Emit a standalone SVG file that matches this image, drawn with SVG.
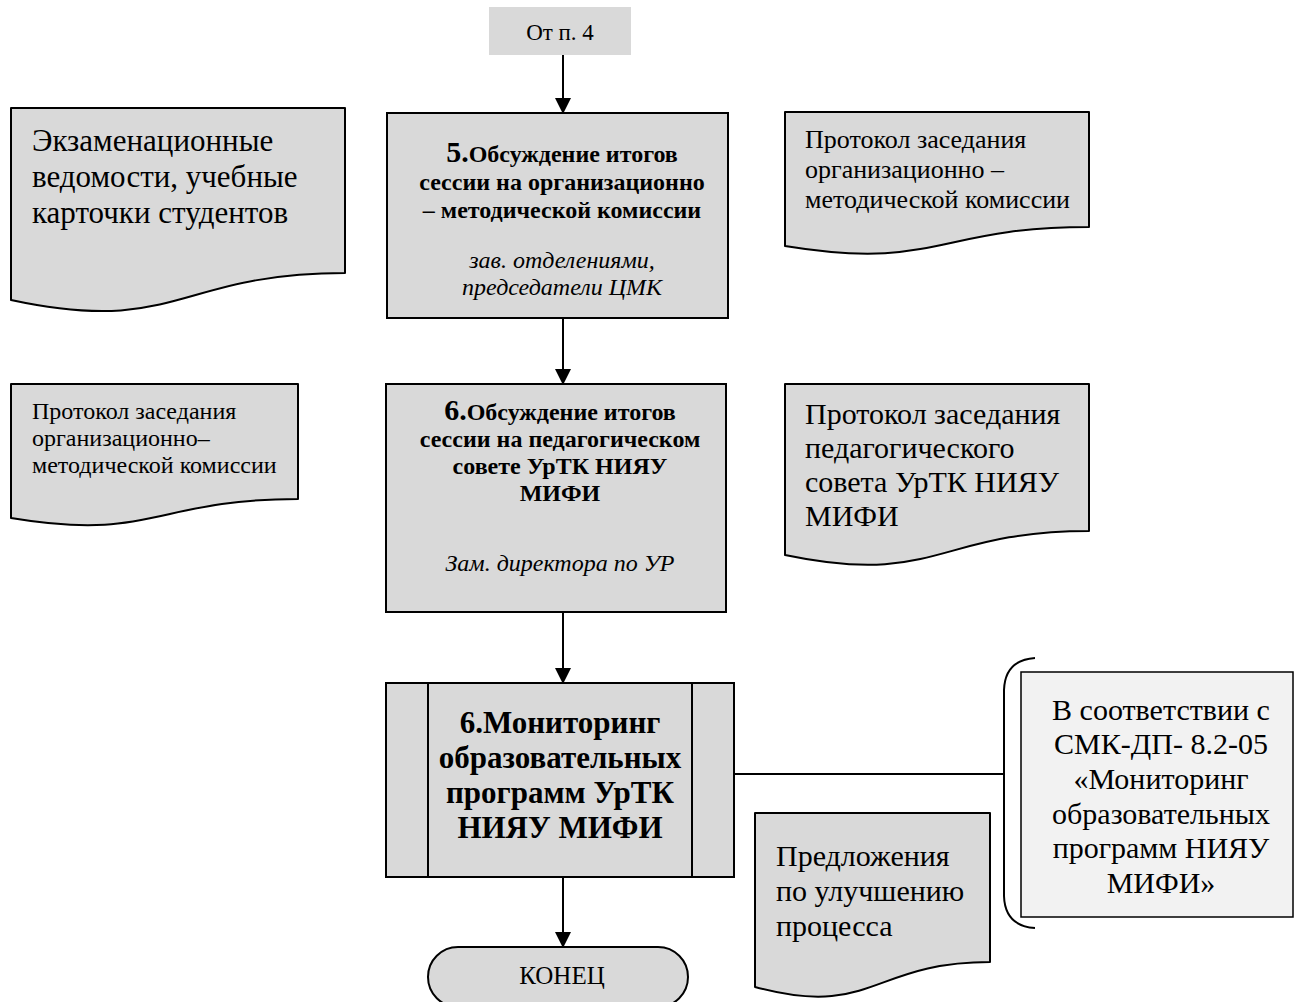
<svg xmlns="http://www.w3.org/2000/svg" width="1301" height="1002" viewBox="0 0 1301 1002">
<style>
text{font-family:"Liberation Serif","Times New Roman",serif;fill:#000}
.box{fill:#d9d9d9;stroke:#000;stroke-width:2}
.light{fill:#f2f2f2;stroke:#000;stroke-width:1.5}
.doc{fill:#d9d9d9;stroke:#000;stroke-width:2;stroke-linejoin:round}
.ln{fill:none;stroke:#000;stroke-width:2}
.b{font-weight:bold}
.i{font-style:italic}
.c{text-anchor:middle}
</style>
<defs>
<marker id="ah" markerWidth="16" markerHeight="16" refX="15" refY="8" orient="auto" markerUnits="userSpaceOnUse">
<path d="M0,0 L16,8 L0,16 Z" fill="#000"/>
</marker>
</defs>
<g id="connectors">
<line class="ln" x1="563" y1="55" x2="563" y2="113" marker-end="url(#ah)"/>
<line class="ln" x1="563" y1="318" x2="563" y2="384" marker-end="url(#ah)"/>
<line class="ln" x1="563" y1="612" x2="563" y2="683" marker-end="url(#ah)"/>
<line class="ln" x1="563" y1="877" x2="563" y2="947" marker-end="url(#ah)"/>
<line class="ln" x1="735" y1="774" x2="1004" y2="774"/>
<path class="ln" d="M1035,658 Q1005,660 1004,690 V896 Q1005,926 1035,928"/>
</g>
<g id="from4">
<rect x="489" y="7" width="142" height="48" fill="#d9d9d9"/>
<text class="c" x="560" y="40" font-size="23">От п. 4</text>
</g>
<g id="doc-exam">
<path class="doc" d="M11,108 H345 V273 C178,273 178,336 11,300 Z"/>
<text x="32" y="151" font-size="31">Экзаменационные</text>
<text x="32" y="187" font-size="31">ведомости, учебные</text>
<text x="32" y="223" font-size="31">карточки студентов</text>
</g>
<g id="step5">
<rect class="box" x="387" y="113" width="341" height="205"/>
<text class="c b" x="562" y="162" font-size="24"><tspan font-size="30">5.</tspan>Обсуждение итогов</text>
<text class="c b" x="562" y="190" font-size="24">сессии на организационно</text>
<text class="c b" x="562" y="218" font-size="24">– методической комиссии</text>
<text class="c i" x="562" y="268" font-size="24">зав. отделениями,</text>
<text class="c i" x="562" y="295" font-size="24">председатели ЦМК</text>
</g>
<g id="doc-protocol1">
<path class="doc" d="M785,112 H1089 V227 C937,227 937,271 785,246 Z"/>
<text x="805" y="148" font-size="26">Протокол заседания</text>
<text x="805" y="178" font-size="26">организационно –</text>
<text x="805" y="208" font-size="26">методической комиссии</text>
</g>
<g id="doc-protocol2">
<path class="doc" d="M11,384 H298 V499 C154,499 154,542 11,518 Z"/>
<text x="32" y="419" font-size="24">Протокол заседания</text>
<text x="32" y="446" font-size="24">организационно–</text>
<text x="32" y="473" font-size="24">методической  комиссии</text>
</g>
<g id="step6">
<rect class="box" x="386" y="384" width="340" height="228"/>
<text class="c b" x="560" y="420" font-size="24"><tspan font-size="30">6.</tspan>Обсуждение итогов</text>
<text class="c b" x="560" y="447" font-size="24">сессии на педагогическом</text>
<text class="c b" x="560" y="474" font-size="24">совете УрТК  НИЯУ</text>
<text class="c b" x="560" y="501" font-size="24">МИФИ</text>
<text class="c i" x="560" y="571" font-size="24">Зам. директора по УР</text>
</g>
<g id="doc-protocol3">
<path class="doc" d="M785,384 H1089 V531 C937,531 937,587 785,555 Z"/>
<text x="805" y="424" font-size="30">Протокол заседания</text>
<text x="805" y="458" font-size="30">педагогического</text>
<text x="805" y="492" font-size="30">совета УрТК НИЯУ</text>
<text x="805" y="526" font-size="30">МИФИ</text>
</g>
<g id="step-monitoring">
<rect class="box" x="386" y="683" width="348" height="194"/>
<line class="ln" x1="428" y1="683" x2="428" y2="877"/>
<line class="ln" x1="692" y1="683" x2="692" y2="877"/>
<text class="c b" x="560" y="733" font-size="31">6.Мониторинг</text>
<text class="c b" x="560" y="768" font-size="31">образовательных</text>
<text class="c b" x="560" y="803" font-size="31">программ УрТК</text>
<text class="c b" x="560" y="838" font-size="31">НИЯУ МИФИ</text>
</g>
<g id="note-smk">
<rect class="light" x="1021" y="672" width="272" height="245"/>
<text class="c" x="1161" y="720" font-size="30">В соответствии с</text>
<text class="c" x="1161" y="754" font-size="30">СМК-ДП- 8.2-05</text>
<text class="c" x="1161" y="789" font-size="30">«Мониторинг</text>
<text class="c" x="1161" y="824" font-size="30">образовательных</text>
<text class="c" x="1161" y="858" font-size="30">программ НИЯУ</text>
<text class="c" x="1161" y="893" font-size="30">МИФИ»</text>
</g>
<g id="doc-proposals">
<path class="doc" d="M755,813 H990 V962 C872,962 872,1019 755,987 Z"/>
<text x="776" y="866" font-size="30">Предложения</text>
<text x="776" y="901" font-size="30">по улучшению</text>
<text x="776" y="936" font-size="30">процесса</text>
</g>
<g id="end">
<rect class="doc" x="428" y="947" width="260" height="60" rx="30" ry="30"/>
<text class="c" x="562" y="984" font-size="25">КОНЕЦ</text>
</g>
</svg>
